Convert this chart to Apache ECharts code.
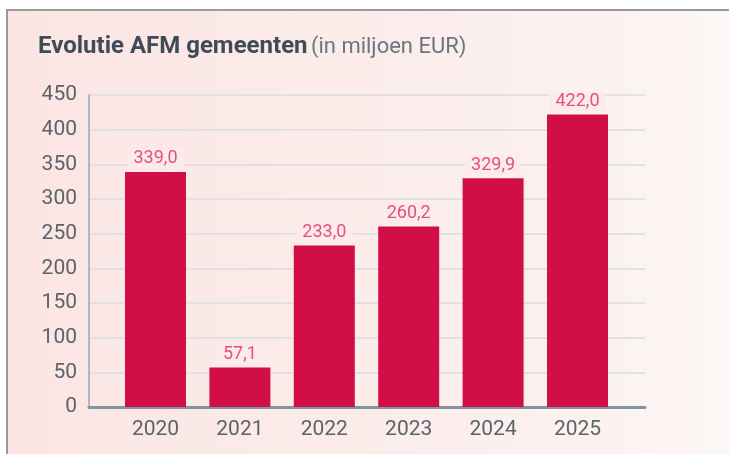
<!DOCTYPE html>
<html lang="nl">
    <head>
        <meta charset="utf-8" />
        <title>Evolutie AFM gemeenten</title>
        <style type="text/css">
            html, body { margin: 0; padding: 0; background: #ffffff; }
            #chart { width: 729px; height: 454px; }
        </style>
    </head>
    <body>
        <div id="chart"></div>
        <script src="https://cdn.jsdelivr.net/npm/echarts@6.0.0/dist/echarts.min.js"></script>
        <script>
            // data
            const years = ['2020', '2021', '2022', '2023', '2024', '2025'];
            const amounts = [339.0, 57.1, 233.0, 260.2, 329.9, 422.0];
            const yTicks = [0, 50, 100, 150, 200, 250, 300, 350, 400, 450];

            const barColor = '#d10e45';
            const labelColor = '#e8507a';
            const axisTextColor = '#5b636b';
            const fontName = 'Roboto';

            let chart = echarts.init(document.querySelector('#chart'), null, { renderer: 'canvas' });

            const option = {
                backgroundColor: '#ffffff',
                animation: false,
                graphic: [
                    {
                        // panel with gradient and grey frame (top + left)
                        type: 'rect',
                        z: -10,
                        shape: { x: 7, y: 10, width: 740, height: 470 },
                        style: {
                            fill: new echarts.graphic.LinearGradient(0, 0, 1, 0, [
                                { offset: 0, color: '#fbe5e3' },
                                { offset: 0.6, color: '#fbeeec' },
                                { offset: 1, color: '#fcf7f5' }
                            ]),
                            stroke: '#9a9a9a',
                            lineWidth: 2
                        }
                    },
                    {
                        type: 'text',
                        left: 38,
                        top: 35,
                        style: {
                            rich: {
                                b: { fontFamily: fontName, fontSize: 24, fontWeight: 'bold', fill: '#3f4b56' },
                                n: { fontFamily: fontName, fontSize: 22, fill: '#6b7681' }
                            },
                            text: '{b|Evolutie AFM gemeenten} {n|(in miljoen EUR)}'
                        }
                    }
                ],
                grid: [
                    // grid 0: y axis, gridlines and baseline
                    { left: 89, right: 84, top: 95, bottom: 47 },
                    // grid 1: the bars, narrower than the gridlines
                    { left: 113.3, right: 109.3, top: 95, bottom: 47 }
                ],
                xAxis: [
                    {
                        gridIndex: 0,
                        type: 'value',
                        min: 0,
                        max: 1,
                        axisLine: { show: true, onZero: false, lineStyle: { color: '#7f96a2', width: 3 } },
                        axisTick: { show: false },
                        axisLabel: { show: false },
                        splitLine: { show: false }
                    },
                    {
                        gridIndex: 1,
                        type: 'category',
                        data: years,
                        axisLine: { show: false },
                        axisTick: { show: false },
                        axisLabel: {
                            margin: 12,
                            color: axisTextColor,
                            fontFamily: fontName,
                            fontSize: 21
                        }
                    }
                ],
                yAxis: [
                    {
                        gridIndex: 0,
                        type: 'value',
                        min: 0,
                        max: 450,
                        interval: 50,
                        axisLine: { show: true, lineStyle: { color: '#a9bac3', width: 2 } },
                        axisTick: { show: false },
                        axisLabel: {
                            margin: 12,
                            color: axisTextColor,
                            fontFamily: fontName,
                            fontSize: 21,
                            customValues: yTicks
                        },
                        splitLine: { lineStyle: { color: '#d9dde0', width: 1.5 } }
                    },
                    {
                        gridIndex: 1,
                        type: 'value',
                        min: 0,
                        max: 450,
                        show: false
                    }
                ],
                series: [
                    {
                        type: 'bar',
                        xAxisIndex: 1,
                        yAxisIndex: 1,
                        barWidth: 61,
                        data: amounts,
                        itemStyle: { color: barColor },
                        label: {
                            show: true,
                            position: 'top',
                            distance: 3,
                            color: labelColor,
                            fontFamily: fontName,
                            fontSize: 18,
                            backgroundColor: '#fbeceb',
                            padding: [1, 6, 1, 6],
                            formatter: (p) => p.value.toFixed(1).replace('.', ',')
                        }
                    }
                ]
            };

            chart.setOption(option);
        </script>
    </body>
</html>
